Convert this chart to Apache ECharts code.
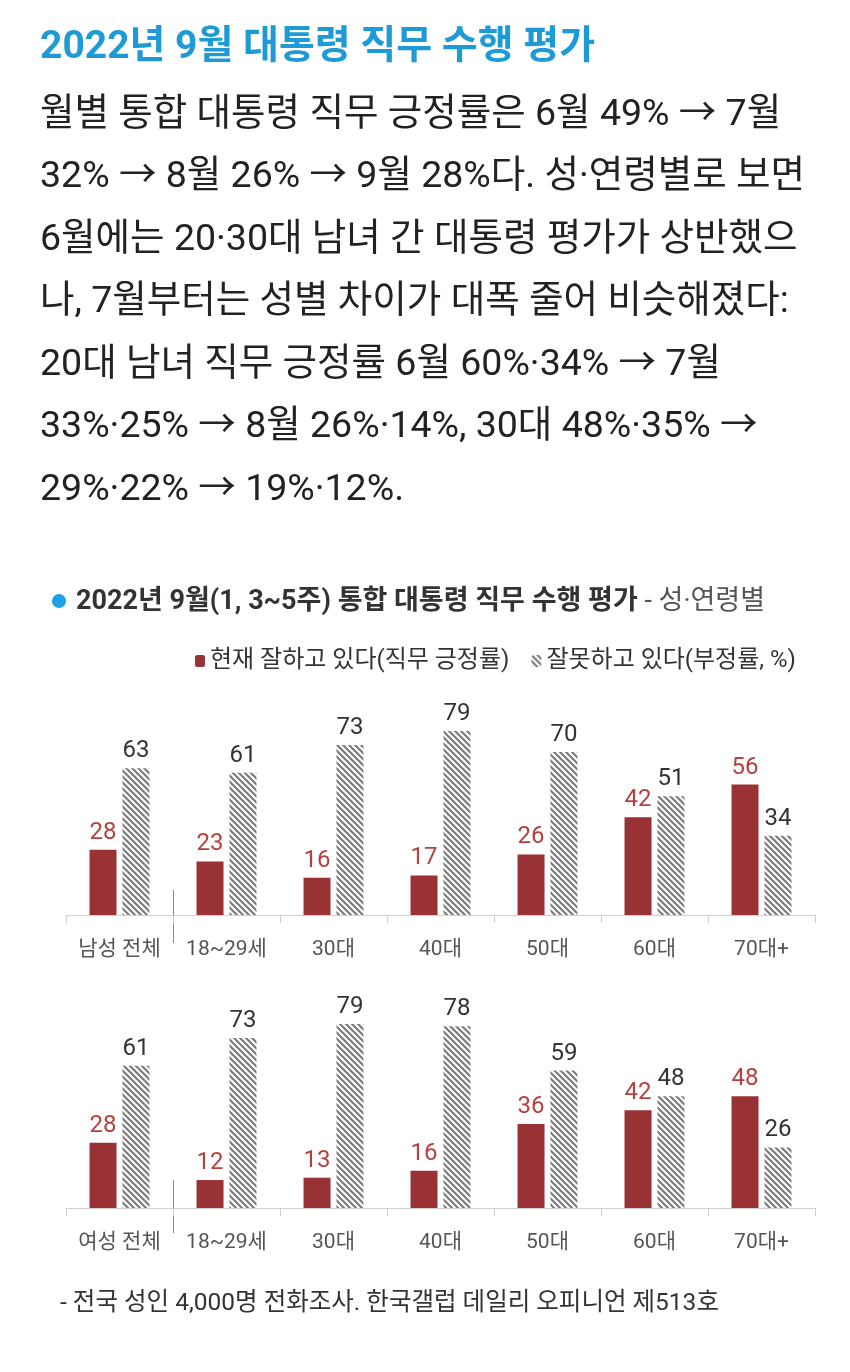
<!DOCTYPE html>
<html>
<head>
<meta charset="utf-8">
<script src="https://cdn.jsdelivr.net/npm/echarts@6/dist/echarts.min.js"></script>
<style>
html,body{margin:0;padding:0;background:#fff;}
#c{width:850px;height:1372px;}
</style>
</head>
<body>
<div id="c"></div>
<script>
// ---- data ----
const maleCategories = ['남성 전체', '18~29세', '30대', '40대', '50대', '60대', '70대+'];
const femaleCategories = ['여성 전체', '18~29세', '30대', '40대', '50대', '60대', '70대+'];
const maleApprove = [28, 23, 16, 17, 26, 42, 56];
const maleDisapprove = [63, 61, 73, 79, 70, 51, 34];
const femaleApprove = [28, 12, 13, 16, 36, 42, 48];
const femaleDisapprove = [61, 73, 79, 78, 59, 48, 26];
const approveName = '현재 잘하고 있다(직무 긍정률)';
const disapproveName = '잘못하고 있다(부정률, %)';
const headline = '2022년 9월 대통령 직무 수행 평가';
const paragraph = [
  '월별 통합 대통령 직무 긍정률은 6월 49% → 7월',
  '32% → 8월 26% → 9월 28%다. 성·연령별로 보면',
  '6월에는 20·30대 남녀 간 대통령 평가가 상반했으',
  '나, 7월부터는 성별 차이가 대폭 줄어 비슷해졌다:',
  '20대 남녀 직무 긍정률 6월 60%·34% → 7월',
  '33%·25% → 8월 26%·14%, 30대 48%·35% →',
  '29%·22% → 19%·12%.'
];
const chartTitle = '2022년 9월(1, 3~5주) 통합 대통령 직무 수행 평가';
const chartTitleSuffix = ' - 성·연령별';
const footnote = '- 전국 성인 4,000명 전화조사. 한국갤럽 데일리 오피니언 제513호';

// ---- styles ----
const FONT = 'Roboto, "Noto Sans CJK KR", "Noto Sans", sans-serif';
const RED = '#983234';
const RED_LABEL = '#b5413f';
const BLUE = '#1e9ad6';

function makeHatch() {
  const s = 6;
  const cv = document.createElement('canvas');
  cv.width = s; cv.height = s;
  const ctx = cv.getContext('2d');
  ctx.fillStyle = '#ffffff';
  ctx.fillRect(0, 0, s, s);
  ctx.strokeStyle = '#7c7c7c';
  ctx.lineWidth = 2.2;
  ctx.beginPath();
  ctx.moveTo(-s, -s); ctx.lineTo(2 * s, 2 * s);
  ctx.moveTo(-s, 0); ctx.lineTo(s, 2 * s);
  ctx.moveTo(0, -s); ctx.lineTo(2 * s, s);
  ctx.stroke();
  return cv;
}
const hatch = { image: makeHatch(), repeat: 'repeat' };

const chart = echarts.init(document.getElementById('c'), null, { renderer: 'canvas' });

const gridLeft = 66, gridRight = 35;
const grids = [
  { left: gridLeft, right: gridRight, top: 682, height: 233 },
  { left: gridLeft, right: gridRight, top: 975, height: 233 }
];

function xAxis(idx, cats) {
  return {
    type: 'category', gridIndex: idx, data: cats,
    axisLine: { lineStyle: { color: '#cfcfcf', width: 1 } },
    axisTick: { show: true, length: 8, lineStyle: { color: '#cfcfcf' } },
    axisLabel: { interval: 0, fontFamily: FONT, fontSize: 21, color: '#555', margin: 24 }
  };
}
function yAxis(idx) {
  return { type: 'value', gridIndex: idx, min: 0, max: 100, show: false, splitLine: { show: false } };
}
function barSeries(name, idx, data, isApprove) {
  return {
    name: name, type: 'bar', xAxisIndex: idx, yAxisIndex: idx, data: data,
    barWidth: 27, barGap: '22%',
    itemStyle: { color: isApprove ? RED : hatch },
    label: {
      show: true, position: 'top', distance: 5,
      fontFamily: FONT, fontSize: 24,
      color: isApprove ? RED_LABEL : '#333'
    },
    emphasis: { disabled: true },
    animation: false
  };
}

const textGraphics = [
  { id: 'headline', type: 'text', left: 40, top: 29, style: { text: headline, fontFamily: FONT, fontSize: 39, fontWeight: 'bold', fill: BLUE } },
  { id: 'para', type: 'text', left: 40, top: 84, style: { text: paragraph.join('\n'), fontFamily: FONT, fontSize: 37.5, lineHeight: 62.5, fill: '#222' } },
  { id: 'dot', type: 'circle', shape: { cx: 59, cy: 601, r: 7 }, style: { fill: '#1fa0e8' } },
  { id: 'ctitle', type: 'text', left: 76, top: 589, style: {
      text: '{b|' + chartTitle + '}{n|' + chartTitleSuffix + '}',
      rich: {
        b: { fontFamily: FONT, fontSize: 27, fontWeight: 'bold', fill: '#333', color: '#333' },
        n: { fontFamily: FONT, fontSize: 27, fill: '#555', color: '#555' }
      } } },
  { id: 'foot', type: 'text', left: 60, top: 1292, style: { text: footnote, fontFamily: FONT, fontSize: 24.5, fill: '#333' } }
];

chart.setOption({
  animation: false,
  backgroundColor: '#fff',
  legend: {
    data: [approveName, disapproveName],
    left: 190, top: 644,
    itemWidth: 10, itemHeight: 12, itemGap: 22,
    textStyle: { fontFamily: FONT, fontSize: 24, color: '#333' },
    selectedMode: false
  },
  grid: grids,
  xAxis: [xAxis(0, maleCategories), xAxis(1, femaleCategories)],
  yAxis: [yAxis(0), yAxis(1)],
  series: [
    barSeries(approveName, 0, maleApprove, true),
    barSeries(disapproveName, 0, maleDisapprove, false),
    barSeries(approveName, 1, femaleApprove, true),
    barSeries(disapproveName, 1, femaleDisapprove, false)
  ],
  graphic: textGraphics
});

// dividers between "total" and age groups, positioned from the axis scale
function dividerX(axisIdx) {
  const a = chart.convertToPixel({ xAxisIndex: axisIdx }, 0);
  const b = chart.convertToPixel({ xAxisIndex: axisIdx }, 1);
  return Math.round((a + b) / 2) + 0.5;
}
const base0 = chart.convertToPixel({ yAxisIndex: 0 }, 0);
const base1 = chart.convertToPixel({ yAxisIndex: 1 }, 0);
chart.setOption({
  graphic: textGraphics.concat([
    { id: 'div0', type: 'line', shape: { x1: dividerX(0), y1: base0 - 25, x2: dividerX(0), y2: base0 + 28 }, style: { stroke: '#8a8a8a', lineWidth: 1 } },
    { id: 'div1', type: 'line', shape: { x1: dividerX(1), y1: base1 - 28, x2: dividerX(1), y2: base1 + 25 }, style: { stroke: '#8a8a8a', lineWidth: 1 } }
  ])
});
</script>
</body>
</html>
